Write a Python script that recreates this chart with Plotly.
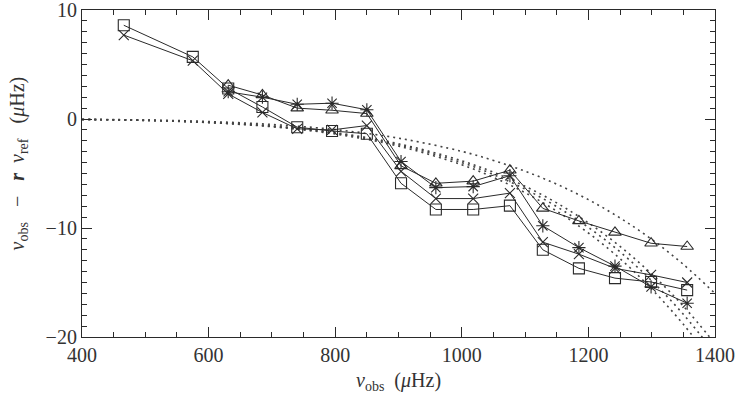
import plotly.graph_objects as go

# Observed frequencies (muHz)
nu_obs = [466, 575, 631, 685, 740, 795, 850, 904, 959, 1018, 1076, 1128, 1185, 1242, 1299, 1356]

# nu_obs - r nu_ref for four reference models
sq_vals = [8.6, 5.7, 2.8, 1.1, -0.75, -1.1, -1.35, -5.9, -8.3, -8.3, -7.95, -12.0, -13.7, -14.6, -14.95, -15.7]
x_vals = [7.7, 5.35, 2.3, 0.6, -0.9, -1.0, -0.6, -4.8, -7.3, -7.3, -6.8, -11.3, -12.4, -13.7, -14.3, -15.0]
tri_vals = [None, None, 3.1, 2.2, 1.0, 0.8, 0.5, -4.3, -5.9, -5.7, -4.7, -8.2, -9.35, -10.4, -11.4, -11.7]
ast_vals = [None, None, 2.5, 2.0, 1.35, 1.45, 0.85, -3.9, -6.3, -6.2, -5.2, -9.8, -11.8, -13.5, -15.4, -16.9]

# Dotted surface-correction curves
curve_nu = [400, 500, 600, 700, 800, 900, 1000, 1050, 1100, 1150, 1200, 1250, 1300, 1350, 1400]
curve_a = [-0.03, -0.09, -0.23, -0.50, -0.97, -1.76, -2.97, -3.80, -4.79, -5.98, -7.40, -9.08, -11.04, -13.34, -16.0]
curve_b = [-0.04, -0.12, -0.30, -0.64, -1.25, -2.27, -3.83, -4.89, -6.17, -7.70, -9.53, -11.69, -14.22, -17.17, -20.6]
curve_c = [-0.04, -0.13, -0.31, -0.67, -1.31, -2.37, -4.00, -5.10, -6.43, -8.04, -9.95, -12.19, -14.84, -17.92, -21.5]
curve_d = [-0.04, -0.13, -0.33, -0.71, -1.38, -2.49, -4.20, -5.36, -6.76, -8.45, -10.46, -12.82, -15.60, -18.84, -22.6]

x_ticks = [400, 600, 800, 1000, 1200, 1400]
y_ticks = [-20, -10, 0, 10]

INK = "#2a2a2a"
FONT = "Liberation Serif"

fig = go.Figure()

for cv in [curve_a, curve_b, curve_c, curve_d]:
    fig.add_trace(go.Scatter(
        x=curve_nu, y=cv, mode="lines",
        line=dict(color="#444", width=1.6, dash="2px,4px", shape="spline"),
        hoverinfo="skip", showlegend=False))

series = [
    (sq_vals, "square-open", 11),
    (x_vals, "x-thin-open", 10),
    (tri_vals, "triangle-up-open", 11),
    (ast_vals, "asterisk-open", 11),
]
for vals, sym, sz in series:
    fig.add_trace(go.Scatter(
        x=nu_obs, y=vals, mode="lines+markers",
        line=dict(color=INK, width=1),
        marker=dict(symbol=sym, size=sz, color=INK, line=dict(color=INK, width=1.1)),
        connectgaps=False, showlegend=False))

axis_common = dict(
    showgrid=False, zeroline=False, showline=True, linecolor=INK, linewidth=1.2,
    mirror="ticks", ticks="inside", ticklen=10, tickwidth=1, tickcolor=INK,
    tickfont=dict(family=FONT, size=20, color="#333"), ticklabeloverflow="allow",
    automargin=False,
)

fig.update_xaxes(range=[400, 1400], tickvals=x_ticks,
                 minor=dict(ticks="inside", ticklen=5, dtick=50, tickcolor=INK, tickwidth=1, showgrid=False),
                 **axis_common)
fig.update_yaxes(range=[-20, 10], tickvals=y_ticks,
                 minor=dict(ticks="inside", ticklen=5, dtick=1, tickcolor=INK, tickwidth=1, showgrid=False),
                 **axis_common)

fig.update_layout(
    width=736, height=402,
    margin=dict(l=82, r=21, t=10, b=65),
    paper_bgcolor="white", plot_bgcolor="white",
    font=dict(family=FONT, color="#333"),
    annotations=[
        dict(text="<i>ν</i><sub>obs</sub>  (<i>μ</i>Hz)", xref="paper", yref="paper",
             x=0.5, y=-0.135, xanchor="center", yanchor="middle", showarrow=False,
             font=dict(family=FONT, size=20, color="#333")),
        dict(text="<i>ν</i><sub>obs</sub>   −   <b><i>r</i></b>  <i>ν</i><sub>ref</sub>   (<i>μ</i>Hz)",
             xref="paper", yref="paper", x=-0.1, y=0.53, xanchor="center", yanchor="middle",
             textangle=-90, showarrow=False, font=dict(family=FONT, size=20, color="#333")),
    ],
)

fig.write_html("out.html")
